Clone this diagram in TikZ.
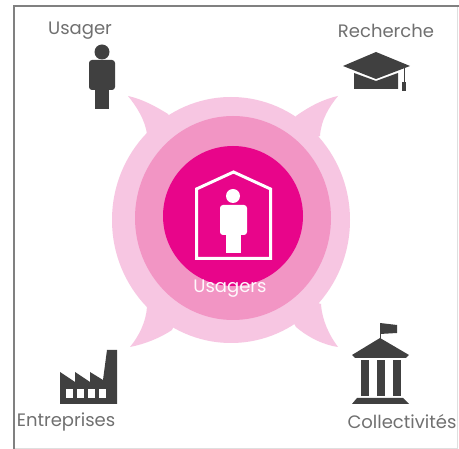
\documentclass[tikz,border=0pt]{standalone}
\usepackage{fontspec}
\setmainfont{Poppins}
\definecolor{palepink}{HTML}{F7C6E2}
\definecolor{midpink}{HTML}{F295C4}
\definecolor{deeppink}{HTML}{E8058A}
\definecolor{icongray}{HTML}{404040}
\definecolor{labelgray}{HTML}{707070}
\tikzset{
  label text/.style={text=labelgray,font=\fontsize{18}{18}\selectfont,inner sep=0pt},
  icon/.style={fill=icongray,draw=none}
}

\begin{document}
\begin{tikzpicture}[x=1pt,y=-1pt]
  \useasboundingbox (0,0) rectangle (459,449);
  \fill[white] (0,0) rectangle (459,449);

  % Cadre
  \draw[gray!25,line width=0.8pt] (457,6) -- (457,448) -- (14,448);
  \draw[gray,line width=1.4pt] (14,449) -- (14,6) -- (459,6);

  % Disque exterieur et cornes
  \fill[palepink] (231,220) ellipse (119 and 123);
  \fill[palepink] (128,96) .. controls (142,99) and (155,106) .. (168,114) -- (190,150) -- (147,134) .. controls (145,120) and (137,107) .. (128,96) -- cycle;
  \fill[palepink] (338,96) .. controls (324,99) and (310,106) .. (296,116) -- (275,150) -- (320,136) .. controls (321,120) and (329,107) .. (338,96) -- cycle;
  \fill[palepink] (130,347) .. controls (145,344) and (160,338) .. (172,330) -- (190,290) -- (147,307) .. controls (146,322) and (139,336) .. (130,347) -- cycle;
  \fill[palepink] (338,347) .. controls (324,345) and (309,338) .. (296,327) -- (275,290) -- (321,304) .. controls (322,320) and (329,335) .. (338,347) -- cycle;

  % Disques
  \fill[midpink] (233,218) ellipse (98 and 102);
  \fill[deeppink] (233,216) ellipse (70 and 70);

  % Maison
  \draw[white,line width=3pt,line join=miter] (196.5,189) -- (233.5,172) -- (270.5,189) -- (270.5,258.5) -- (196.5,258.5) -- cycle;
  \fill[white] (233,196) circle (7);
  \fill[white,rounded corners=3pt] (220,205) rectangle (247,235);
  \fill[white] (226,230) rectangle (241,253);

  \node[text=white!90!palepink,font=\fontsize{18}{18}\selectfont,inner sep=0pt] (usagers) at (230,289) {Usagers};

  % Usager
  \node[label text] (usager) at (80,31) {Usager};
  \fill[icon] (102,52) circle (7.5);
  \fill[icon,rounded corners=3pt] (89,60) rectangle (115,90);
  \fill[icon] (95,85) rectangle (109,109);

  % Recherche
  \node[label text] (recherche) at (386,31) {Recherche};
  \fill[icon] (354,89) -- (354,73) -- (376,81) -- (398,73) -- (398,89) -- cycle;
  \fill[icon] (343,66) -- (376,52) -- (410,66) -- (376,79) -- cycle;
  \draw[icongray,line width=1pt] (404,68) -- (404,84);
  \fill[icon] (402,82) rectangle (406,91);

  % Entreprises
  \node[label text] (entreprises) at (66,422) {Entreprises};
  \fill[icon] (60,404) -- (60,372) -- (75,382) -- (75,372) -- (90,382) -- (90,372) -- (103,380) -- (107,350) -- (117,350) -- (117,404) -- cycle;
  \foreach \x in {66,77,88,99}
    \fill[white] (\x,389) rectangle ++(7,9);

  % Collectivites
  \node[label text] (collectivites) at (402,422) {Collectivités};
  \draw[icongray,line width=1pt] (380,340) -- (380,323);
  \fill[icon] (380,323) -- (397,325) -- (397,333) -- (380,334) -- cycle;
  \fill[icon] (352,355) -- (380,338) -- (409,355) -- (406,358) -- (355,358) -- cycle;
  \fill[icon] (361,360) rectangle (369,396);
  \fill[icon] (377,360) rectangle (385,396);
  \fill[icon] (393,360) rectangle (401,396);
  \fill[icon] (357,398) -- (403,398) -- (409,404) -- (352,404) -- cycle;
\end{tikzpicture}
\end{document}
